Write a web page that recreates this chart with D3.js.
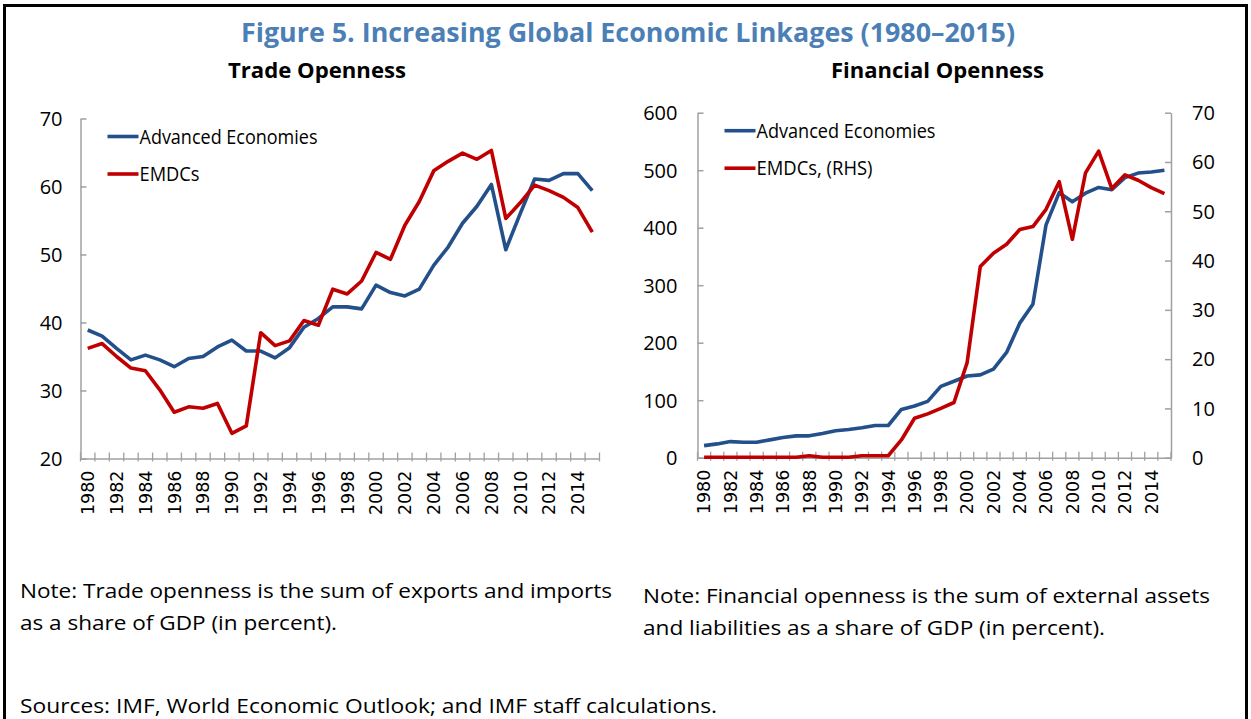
<!DOCTYPE html>
<html>
<head>
<meta charset="utf-8">
<script src="https://cdn.jsdelivr.net/npm/d3@7"></script>
<style>
  html, body { margin: 0; padding: 0; background: #fff; }
  svg { display: block; }
</style>
</head>
<body>
<svg id="chart" width="1251" height="719"></svg>
<script>
// ---------- data ----------
const years = d3.range(1980, 2016);
const labelYears = years.filter(y => y % 2 === 0);

const tradeAE = [38.9,38.0,36.2,34.5,35.2,34.5,33.5,34.7,35.0,36.4,37.4,35.8,35.8,34.8,36.3,39.3,40.6,42.3,42.3,42.0,45.5,44.4,43.9,44.9,48.4,51.1,54.6,57.1,60.3,50.7,56.0,61.1,60.9,61.9,61.9,59.4];
const tradeEM = [36.2,36.9,35.0,33.3,32.9,30.1,26.8,27.6,27.4,28.1,23.7,24.8,38.5,36.6,37.3,40.3,39.6,44.9,44.2,46.1,50.3,49.3,54.3,57.8,62.3,63.7,64.9,64.0,65.3,55.3,57.6,60.2,59.4,58.4,56.9,53.3];

const finAE = [21,24,28,27,27,31,35,38,38,42,47,49,52,56,56,84,90,98,124,133,142,144,154,183,234,267,405,461,445,460,470,466,487,495,497,500];
const finEM = [0.1,0.1,0.1,0.1,0.1,0.1,0.1,0.1,0.4,0.1,0.1,0.1,0.4,0.4,0.4,3.6,8.0,8.9,10.0,11.2,19.3,38.8,41.5,43.3,46.3,46.9,50.4,56.0,44.3,57.8,62.2,54.6,57.4,56.3,54.8,53.6];

const tradeTicks = [20,30,40,50,60,70];
const finTicks = [0,100,200,300,400,500,600];
const finRTicks = [0,10,20,30,40,50,60,70];

const title = "Figure 5. Increasing Global Economic Linkages (1980\u20132015)";
const leftTitle = "Trade Openness";
const rightTitle = "Financial Openness";
const leftLegend = ["Advanced Economies", "EMDCs"];
const rightLegend = ["Advanced Economies", "EMDCs, (RHS)"];
const leftNote = ["Note: Trade openness is the sum of exports and imports", "as a share of GDP (in percent)."];
const rightNote = ["Note: Financial openness is the sum of external assets", "and liabilities as a share of GDP (in percent)."];
const sources = "Sources: IMF, World Economic Outlook; and IMF staff calculations.";

// ---------- style ----------
const BLUE = "#23508a";
const RED = "#c00000";
const AXIS = "#a0a0a0";
const TITLE_BLUE = "#4b7fb6";
const FONT = "'Open Sans', 'Noto Sans', sans-serif";
const YEARFONT = "'DejaVu Sans', sans-serif";

const svg = d3.select("#chart");

// border
svg.append("rect").attr("x", 4.5).attr("y", 5.5).attr("width", 1242).attr("height", 730)
  .attr("fill", "none").attr("stroke", "#000").attr("stroke-width", 3);

function txt(t, x, y, size, weight, color, len, anchor) {
  const el = svg.append("text").attr("x", x).attr("y", y).text(t)
    .attr("font-family", FONT).attr("font-size", size).attr("font-weight", weight || 400)
    .attr("fill", color || "#000").attr("text-anchor", anchor || "start");
  if (len) el.attr("textLength", len).attr("lengthAdjust", "spacingAndGlyphs");
  return el;
}

txt(title, 241, 42, 27, 700, TITLE_BLUE, 774);
txt(leftTitle, 228, 78, 21, 700, "#000", 178);
txt(rightTitle, 831, 78, 21, 700, "#000", 213);

txt(leftNote[0], 20, 598, 20.5, 400, "#000", 592);
txt(leftNote[1], 20, 630, 20.5, 400, "#000", 317);
txt(rightNote[0], 643, 603, 20.5, 400, "#000", 567);
txt(rightNote[1], 643, 635, 20.5, 400, "#000", 462);
txt(sources, 20, 713, 20.5, 400, "#000", 697);

// ---------- panel builder ----------
function panel(cfg) {
  const x = d3.scaleBand().domain(years).range([cfg.x0, cfg.x1]).padding(0);
  const y = d3.scaleLinear().domain(cfg.yDomain).range([cfg.yBottom, cfg.yTop]);
  const g = svg.append("g");

  // x axis with labels
  const xa = g.append("g").attr("transform", `translate(0,${cfg.yBottom})`)
    .call(d3.axisBottom(x).tickValues(labelYears).tickSize(0).tickPadding(0));
  xa.select(".domain").attr("stroke", AXIS).attr("stroke-width", 1.5);
  xa.selectAll(".tick text")
    .attr("transform", "rotate(-90)")
    .attr("x", -12).attr("y", 0).attr("dy", "0.36em")
    .attr("text-anchor", "end")
    .attr("font-family", YEARFONT).attr("font-size", 17.5).attr("fill", "#000");
  // boundary tick marks
  const bounds = years.map(d => x(d)).concat([x.range()[1]]);
  xa.selectAll("line.bt").data(bounds).enter().append("line").attr("class", "bt")
    .attr("x1", d => d).attr("x2", d => d).attr("y1", -6).attr("y2", 3)
    .attr("stroke", AXIS).attr("stroke-width", 1.3);

  // left y axis
  const ya = g.append("g").attr("transform", `translate(${cfg.x0},0)`)
    .call(d3.axisRight(y).tickValues(cfg.yTicks).tickSize(6).tickPadding(0).tickSizeOuter(0));
  ya.select(".domain").attr("stroke", AXIS).attr("stroke-width", 1.5);
  ya.selectAll(".tick line").attr("stroke", AXIS).attr("stroke-width", 1.5);
  ya.selectAll(".tick text").attr("x", -cfg.labelGap).attr("text-anchor", "end")
    .attr("font-family", FONT).attr("font-size", 20).attr("fill", "#000").attr("dy", "0.34em");

  let yR = null;
  if (cfg.yRDomain) {
    yR = d3.scaleLinear().domain(cfg.yRDomain).range([cfg.yBottom, cfg.yTop]);
    const yra = g.append("g").attr("transform", `translate(${cfg.x1},0)`)
      .call(d3.axisLeft(yR).tickValues(cfg.yRTicks).tickSize(6).tickPadding(0).tickSizeOuter(0));
    yra.select(".domain").attr("stroke", AXIS).attr("stroke-width", 1.5);
    yra.selectAll(".tick line").attr("stroke", AXIS).attr("stroke-width", 1.5);
    yra.selectAll(".tick text").attr("x", 21).attr("text-anchor", "start")
      .attr("font-family", FONT).attr("font-size", 20).attr("fill", "#000").attr("dy", "0.34em");
  }

  const cx = d => x(d) + x.bandwidth() / 2;
  const lineL = d3.line().x((d, i) => cx(years[i])).y(d => y(d));
  const yS = yR || y;
  const lineS = d3.line().x((d, i) => cx(years[i])).y(d => yS(d));

  g.append("path").datum(cfg.s1).attr("d", lineL).attr("fill", "none")
    .attr("stroke", BLUE).attr("stroke-width", 3.6).attr("stroke-linejoin", "round");
  g.append("path").datum(cfg.s2).attr("d", lineS).attr("fill", "none")
    .attr("stroke", RED).attr("stroke-width", 3.6).attr("stroke-linejoin", "round");

  // legend
  const lx = cfg.x0 + 27, ly = cfg.yTop + 18;
  [[BLUE, cfg.legend[0], cfg.legLen[0]], [RED, cfg.legend[1], cfg.legLen[1]]].forEach((it, i) => {
    const yy = ly + i * 37.5;
    g.append("line").attr("x1", lx).attr("x2", lx + 31).attr("y1", yy).attr("y2", yy)
      .attr("stroke", it[0]).attr("stroke-width", 3.6);
    txt(it[1], lx + 32, yy + 7, 20.5, 400, "#000", it[2]);
  });
}

panel({
  x0: 80.5, x1: 599.5, yTop: 118.5, yBottom: 458.5,
  yDomain: [20, 70], yTicks: tradeTicks, labelGap: 18,
  s1: tradeAE, s2: tradeEM, legend: leftLegend, legLen: [178, 60]
});

panel({
  x0: 697.5, x1: 1171, yTop: 112.7, yBottom: 457.7,
  yDomain: [0, 600], yTicks: finTicks, labelGap: 20,
  yRDomain: [0, 70], yRTicks: finRTicks,
  s1: finAE, s2: finEM, legend: rightLegend, legLen: [179, 116]
});
</script>
</body>
</html>
